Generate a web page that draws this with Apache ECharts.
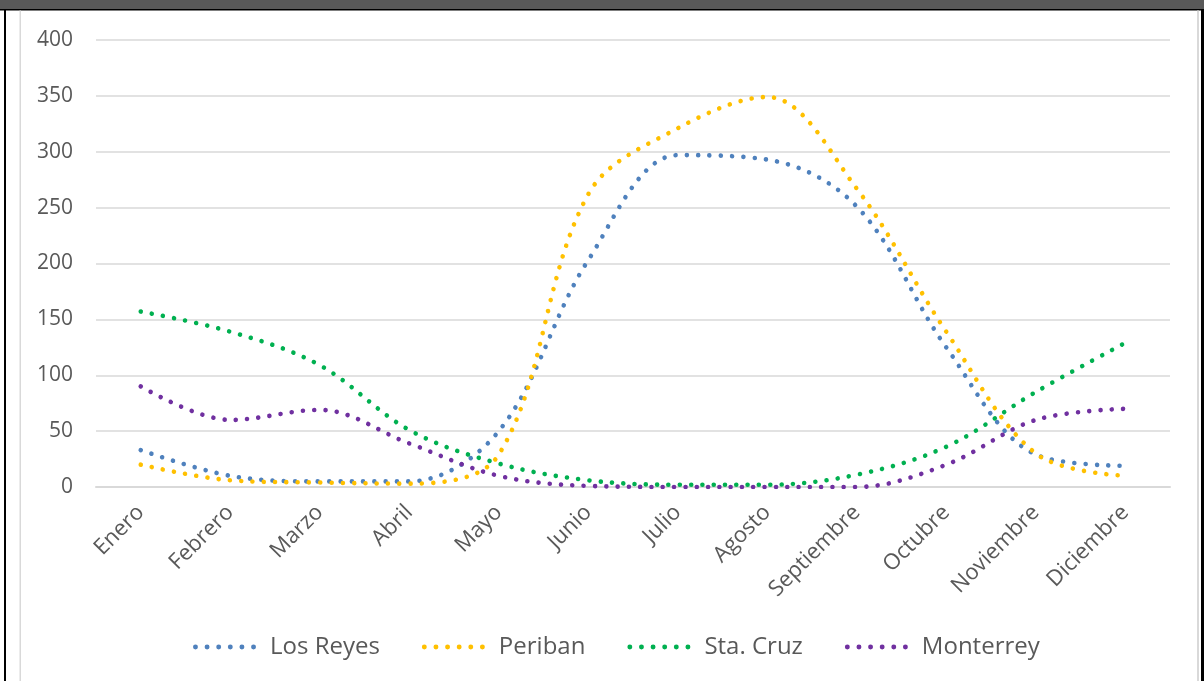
<!DOCTYPE html>
<html>
<head>
<meta charset="utf-8">
<style>
  html, body { margin: 0; padding: 0; background: #ffffff; }
  #chart { width: 1204px; height: 681px; }
</style>
<script src="https://cdn.jsdelivr.net/npm/echarts@6/dist/echarts.min.js"></script>
</head>
<body>
<div id="chart"></div>
<script>
// Monthly values per locality
const months = ['Enero', 'Febrero', 'Marzo', 'Abril', 'Mayo', 'Junio', 'Julio', 'Agosto', 'Septiembre', 'Octubre', 'Noviembre', 'Diciembre'];
const losReyes  = [33, 10, 5, 5, 50, 203, 297, 293, 251, 125, 29, 19];
const periban   = [20, 6, 4, 3, 29, 262, 321, 349, 267, 139, 30, 10];
const staCruz   = [157, 139, 109, 51, 21, 6, 2, 2, 11, 36, 85, 129];
const monterrey = [90, 60, 69, 39, 10, 1, 0, 0, 0, 20, 60, 70];
const yTicks    = [0, 50, 100, 150, 200, 250, 300, 350, 400];

const seriesNames  = ['Los Reyes', 'Periban', 'Sta. Cruz', 'Monterrey'];
const seriesData   = [losReyes, periban, staCruz, monterrey];
const seriesColors = ['#4f81bd', '#ffc000', '#00b050', '#7030a0'];

const FONT = "'Open Sans', 'Noto Sans', sans-serif";
const TEXT = '#595959';

// Row of six round dots used as the legend marker
function dotsPath() {
  const r = 2.4, gap = 11.3;
  let d = '';
  for (let i = 0; i < 6; i++) {
    const cx = r + i * gap;
    d += 'M' + (cx - r) + ',' + r + ' a' + r + ',' + r + ' 0 1,0 ' + (2 * r) + ',0 a' + r + ',' + r + ' 0 1,0 ' + (-2 * r) + ',0 Z ';
  }
  return 'path://' + d;
}
const legendIcon = dotsPath();

const chart = echarts.init(document.getElementById('chart'), null, { renderer: 'canvas' });

chart.setOption({
  backgroundColor: '#ffffff',
  animation: false,
  graphic: [
    // frame around the chart
    { type: 'rect', shape: { x: 0, y: 0, width: 1204, height: 9 }, style: { fill: '#595959' }, silent: true },
    { type: 'rect', shape: { x: 0, y: 9, width: 1204, height: 1.5 }, style: { fill: '#000000' }, silent: true },
    { type: 'rect', shape: { x: 4, y: 9, width: 2, height: 672 }, style: { fill: '#000000' }, silent: true },
    { type: 'rect', shape: { x: 19.5, y: 10.5, width: 1.5, height: 671 }, style: { fill: '#d9d9d9' }, silent: true },
    { type: 'rect', shape: { x: 1197, y: 10.5, width: 2, height: 671 }, style: { fill: '#d9d9d9' }, silent: true },
    { type: 'rect', shape: { x: 1201, y: 9, width: 3, height: 672 }, style: { fill: '#000000' }, silent: true }
  ],
  grid: { left: 96, right: 34, top: 40, bottom: 194, containLabel: false },
  legend: {
    bottom: 17,
    left: 188,
    itemGap: 42,
    itemWidth: 63,
    itemHeight: 5,
    icon: legendIcon,
    textStyle: { fontFamily: FONT, fontSize: 24, color: TEXT, padding: [0, 0, 0, 9] },
    data: seriesNames
  },
  xAxis: {
    type: 'category',
    data: months,
    boundaryGap: true,
    axisLine: { show: true, lineStyle: { color: '#d9d9d9', width: 2 } },
    axisTick: { show: false },
    axisLabel: {
      interval: 0,
      rotate: 45,
      margin: 22,
      fontFamily: FONT,
      fontSize: 22,
      color: TEXT
    }
  },
  yAxis: {
    type: 'value',
    min: yTicks[0],
    max: yTicks[yTicks.length - 1],
    interval: yTicks[1] - yTicks[0],
    axisLine: { show: false },
    axisTick: { show: false },
    splitLine: { lineStyle: { color: '#d9d9d9', width: 1.5 } },
    axisLabel: {
      margin: 23,
      fontFamily: FONT,
      fontSize: 21,
      color: TEXT
    }
  },
  series: seriesNames.map((name, i) => ({
    name: name,
    type: 'line',
    data: seriesData[i],
    smooth: 0.35,
    symbol: 'none',
    color: seriesColors[i],
    itemStyle: { color: seriesColors[i] },
    lineStyle: {
      color: seriesColors[i],
      width: 4.6,
      type: [0.01, 11.3],
      cap: 'round'
    }
  }))
});
</script>
</body>
</html>
